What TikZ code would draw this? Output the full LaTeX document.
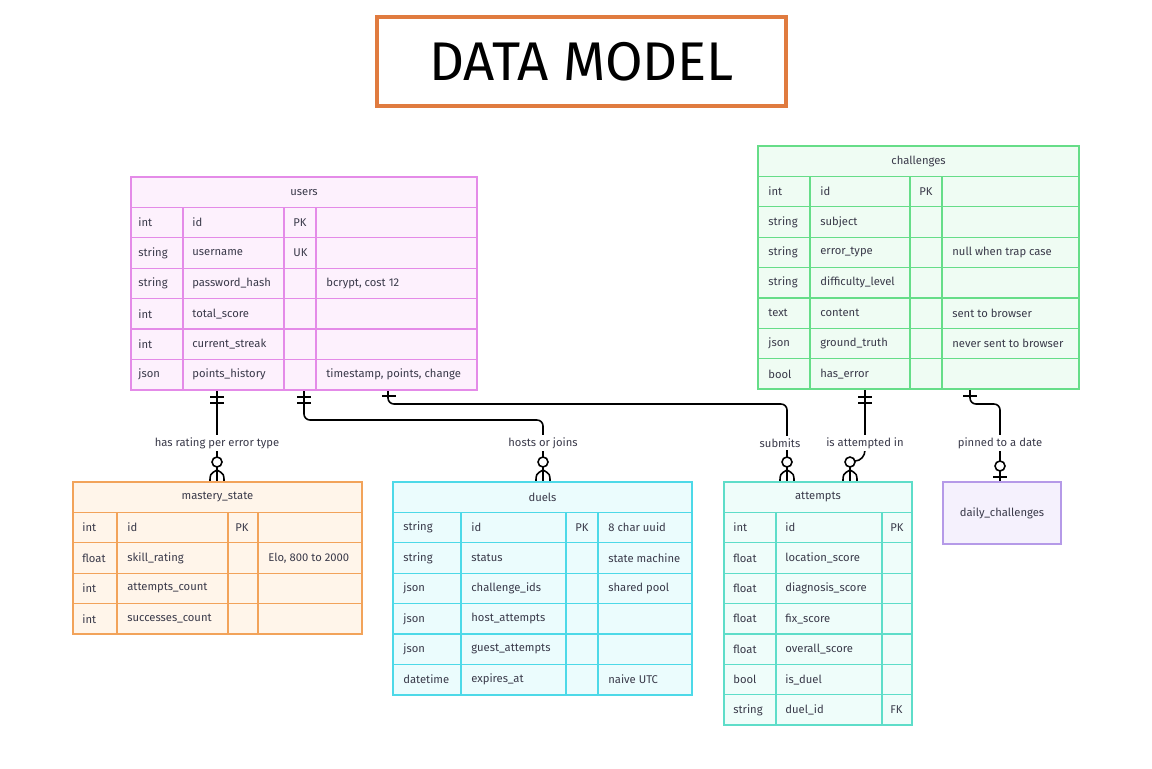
\documentclass[tikz,border=0pt]{standalone}
\usepackage{fontspec}
\setmainfont{Fira Sans}
\usetikzlibrary{calc}
\definecolor{txt}{HTML}{3A3A4A}
\definecolor{titleC}{HTML}{E07B3F}
\definecolor{userC}{HTML}{E48BE8}
\definecolor{userF}{HTML}{FDF1FD}
\definecolor{chalC}{HTML}{66DD88}
\definecolor{chalF}{HTML}{EFFCF3}
\definecolor{mastC}{HTML}{F2A35A}
\definecolor{mastF}{HTML}{FFF5EA}
\definecolor{duelC}{HTML}{4DD9E8}
\definecolor{duelF}{HTML}{EBFCFD}
\definecolor{attC}{HTML}{5EDDC9}
\definecolor{attF}{HTML}{EFFDFA}
\definecolor{dayC}{HTML}{B59AE8}
\definecolor{dayF}{HTML}{F5F1FD}
\tikzset{
    cell/.style = {anchor=west, inner sep=0pt, text=txt, font=\fontsize{6.4}{8}\selectfont},
    hdr/.style = {inner sep=0pt, text=txt, font=\fontsize{6.4}{8}\selectfont},
    rlabel/.style = {fill=white, inner sep=1.5pt, text=txt, font=\fontsize{6.4}{8}\selectfont},
    rel/.style = {draw=black, line width=0.9pt},
    ermark/.style = {draw=black, line width=0.9pt}
}
% frame of one entity table: name, colour, x0, x1, y0, rows, inner columns, title
\newcommand{\ertable}[8]{%
    \fill[#2F] (#3,#5) rectangle (#4,{#5+30.4*(#6+1)});
    \foreach \i in {1,...,#6}
        \draw[#2C, line width=0.7pt] (#3,{#5+30.4*\i}) -- (#4,{#5+30.4*\i});
    \foreach \c in {#7}
        \draw[#2C, line width=0.7pt] (\c,{#5+30.4}) -- (\c,{#5+30.4*(#6+1)});
    \draw[#2C, line width=1pt] (#3,#5) rectangle (#4,{#5+30.4*(#6+1)});
    \node[hdr] (#1) at ({(#3+#4)/2},{#5+15.2}) {#8};
}
% mandatory one (two bars)
\newcommand{\onlyone}[1]{%
    \draw[ermark] ({#1-7},397) -- ({#1+7},397);
    \draw[ermark] ({#1-7},403) -- ({#1+7},403);
}
% zero or many (circle and crow's foot)
\newcommand{\zeromany}[1]{%
    \draw[ermark, fill=white] (#1,462) circle[radius=0.1cm];
    \draw[ermark] (#1,467) -- (#1,482);
    \draw[ermark] ({#1-7},482) .. controls ({#1-7},474) .. (#1,470);
    \draw[ermark] ({#1+7},482) .. controls ({#1+7},474) .. (#1,470);
}

\begin{document}
\begin{tikzpicture}[x=0.02cm, y=-0.02cm]
    \useasboundingbox (0,0) rectangle (1152,768);
    \fill[white] (0,0) rectangle (1152,768);

    % title
    \node[draw=titleC, line width=1.8pt, minimum width=8.18cm, minimum height=1.78cm,
        text=black, font=\fontsize{31}{36}\selectfont] (title) at (581.5,61.5) {DATA MODEL};

    % relationships (drawn first, labels on top)
    \coordinate (u1) at (217,390);
    \coordinate (u2) at (304,390);
    \coordinate (u3) at (388,390);
    \coordinate (c1) at (865,390);
    \coordinate (c2) at (970,390);
    \draw[rel] (u1) -- (217,482);
    \draw[rel, rounded corners=0.12cm] (u2) -- (304,420) -- (543,420) -- (543,482);
    \draw[rel, rounded corners=0.12cm] (u3) -- (388,404) -- (787,404) -- (787,482);
    \draw[rel] (c1) -- (865,450) to[out=-90, in=0] (855,461);
    \draw[rel, rounded corners=0.12cm] (c2) -- (970,404) -- (1000,404) -- (1000,482);
    \onlyone{217}
    \onlyone{304}
    \onlyone{865}
    \draw[ermark] (382,396) -- (396,396);
    \draw[ermark] (963,396) -- (977,396);
    \zeromany{217}
    \zeromany{543}
    \zeromany{787}
    \zeromany{850}
    \draw[ermark, fill=white] (1000,466) circle[radius=0.1cm];
    \draw[ermark] (993,477) -- (1007,477);
    \node[rlabel] (l1) at (217,443) {has rating per error type};
    \node[rlabel] (l2) at (543,443) {hosts or joins};
    \node[rlabel] (l3) at (780,443) {submits};
    \node[rlabel] (l4) at (865,443) {is attempted in};
    \node[rlabel] (l5) at (1000,443) {pinned to a date};

    % users
    \ertable{users}{user}{131}{477}{177}{6}{183,284,316}{users}
    \foreach \t/\n/\k/\c [count=\i] in {int/id/PK/{}, string/username/UK/{},
        string/password\_hash/{}/{bcrypt, cost 12}, int/total\_score/{}/{},
        int/current\_streak/{}/{}, json/points\_history/{}/{timestamp, points, change}}{
        \node[cell] (users-t\i) at (138,{192.2+30.4*\i}) {\t};
        \node[cell] (users-n\i) at (192,{192.2+30.4*\i}) {\n};
        \node[cell] (users-k\i) at (293,{192.2+30.4*\i}) {\k};
        \node[cell] (users-c\i) at (326,{192.2+30.4*\i}) {\c};
    }

    % challenges
    \ertable{challenges}{chal}{758}{1079}{146}{7}{810,910,942}{challenges}
    \foreach \t/\n/\k/\c [count=\i] in {int/id/PK/{}, string/subject/{}/{},
        string/error\_type/{}/{null when trap case}, string/difficulty\_level/{}/{},
        text/content/{}/{sent to browser}, json/ground\_truth/{}/{never sent to browser},
        bool/has\_error/{}/{}}{
        \node[cell] (challenges-t\i) at (768,{161.2+30.4*\i}) {\t};
        \node[cell] (challenges-n\i) at (820,{161.2+30.4*\i}) {\n};
        \node[cell] (challenges-k\i) at (919,{161.2+30.4*\i}) {\k};
        \node[cell] (challenges-c\i) at (952,{161.2+30.4*\i}) {\c};
    }

    % mastery_state
    \ertable{mastery}{mast}{73}{362}{482}{4}{117,228,258}{mastery\_state}
    \foreach \t/\n/\k/\c [count=\i] in {int/id/PK/{}, float/skill\_rating/{}/{Elo, 800 to 2000},
        int/attempts\_count/{}/{}, int/successes\_count/{}/{}}{
        \node[cell] (mastery-t\i) at (82,{497.2+30.4*\i}) {\t};
        \node[cell] (mastery-n\i) at (127,{497.2+30.4*\i}) {\n};
        \node[cell] (mastery-k\i) at (235,{497.2+30.4*\i}) {\k};
        \node[cell] (mastery-c\i) at (268,{497.2+30.4*\i}) {\c};
    }

    % duels
    \ertable{duels}{duel}{393}{692}{482}{6}{461,566,598}{duels}
    \foreach \t/\n/\k/\c [count=\i] in {string/id/PK/{8 char uuid}, string/status/{}/{state machine},
        json/challenge\_ids/{}/{shared pool}, json/host\_attempts/{}/{},
        json/guest\_attempts/{}/{}, datetime/expires\_at/{}/{naive UTC}}{
        \node[cell] (duels-t\i) at (403,{497.2+30.4*\i}) {\t};
        \node[cell] (duels-n\i) at (471,{497.2+30.4*\i}) {\n};
        \node[cell] (duels-k\i) at (575,{497.2+30.4*\i}) {\k};
        \node[cell] (duels-c\i) at (608,{497.2+30.4*\i}) {\c};
    }

    % attempts
    \ertable{attempts}{att}{724}{912}{482}{7}{776,882}{attempts}
    \foreach \t/\n/\k [count=\i] in {int/id/PK, float/location\_score/{}, float/diagnosis\_score/{},
        float/fix\_score/{}, float/overall\_score/{}, bool/is\_duel/{}, string/duel\_id/FK}{
        \node[cell] (attempts-t\i) at (733,{497.2+30.4*\i}) {\t};
        \node[cell] (attempts-n\i) at (785,{497.2+30.4*\i}) {\n};
        \node[cell] (attempts-k\i) at (890,{497.2+30.4*\i}) {\k};
    }

    % daily_challenges
    \fill[dayF] (943,482) rectangle (1061,544);
    \draw[dayC, line width=1pt] (943,482) rectangle (1061,544);
    \node[hdr] (daily) at (1002,513) {daily\_challenges};
\end{tikzpicture}
\end{document}
